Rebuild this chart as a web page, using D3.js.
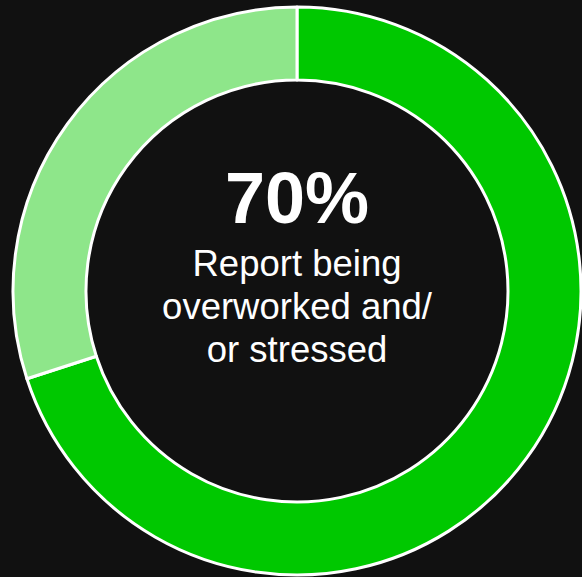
<!DOCTYPE html>
<html>
<head>
    <meta charset="utf-8">
    <title>Overworked donut</title>
    <script src="https://cdn.jsdelivr.net/npm/d3@7"></script>
    <style>
        html, body { margin: 0; padding: 0; background: #111111; }
        svg { display: block; }
    </style>
</head>
<body>
    <svg id="donutSvg"></svg>
<script>
    // data
    let labels = ["Overworked and/or stressed", "Other"];
    let values = [70, 30];
    let colors = ["#00c800", "#8ee68a"];
    let headline = "70%";
    let captionLines = ["Report being", "overworked and/", "or stressed"];

    let SVGWIDTH = 582, SVGHEIGHT = 577;
    let cx = 297, cy = 291,
        outerR = 284, innerR = 211;

    let svg = d3.select("#donutSvg")
        .attr("width", SVGWIDTH).attr("height", SVGHEIGHT)
        .style("background-color", "#111111");

    let g = svg.append("g")
        .attr("transform", "translate(" + cx + "," + cy + ")");

    let pie = d3.pie().sort(null).value(d => d);
    let arc = d3.arc().innerRadius(innerR).outerRadius(outerR);

    // ring slices
    g.selectAll("path.slice")
        .data(pie(values))
        .enter().append("path")
        .attr("class", "slice")
        .attr("d", arc)
        .attr("fill", (d, i) => colors[i])
        .attr("stroke", "#ffffff")
        .attr("stroke-width", 3)
        .attr("stroke-linejoin", "round");

    // centre text
    g.append("text")
        .attr("x", 0).attr("y", 223 - cy)
        .attr("text-anchor", "middle")
        .attr("fill", "#ffffff")
        .style("font-family", "'Liberation Sans', Arial, sans-serif")
        .style("font-weight", "bold")
        .style("font-size", "72px")
        .text(headline);

    g.selectAll("text.caption")
        .data(captionLines)
        .enter().append("text")
        .attr("class", "caption")
        .attr("x", 0)
        .attr("y", (d, i) => 276 - cy + i * 43)
        .attr("text-anchor", "middle")
        .attr("fill", "#ffffff")
        .style("font-family", "'Liberation Sans', Arial, sans-serif")
        .style("font-size", "36.5px")
        .text(d => d);
</script>
</body>
</html>
